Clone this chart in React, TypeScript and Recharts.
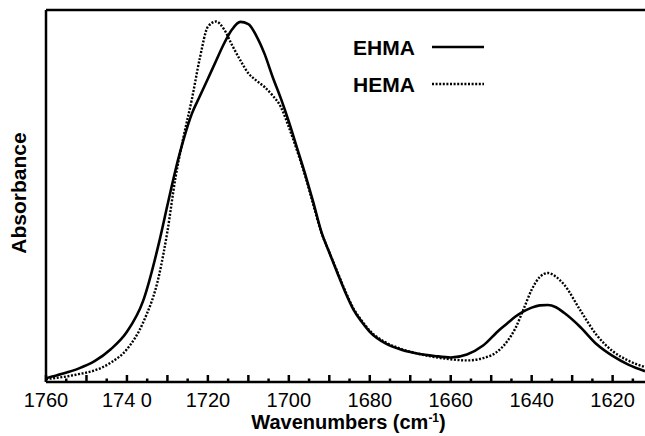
import React from 'react';
import { LineChart, Line, XAxis, YAxis, ReferenceLine, Legend } from 'recharts';

const wavenumbers = [
  1760, 1756, 1752, 1748, 1744, 1740, 1736, 1732, 1730, 1728, 1726, 1724, 1722, 1720,
  1718, 1716, 1714, 1712, 1710, 1708, 1706, 1704, 1702, 1700, 1698, 1696, 1694, 1692,
  1690, 1688, 1686, 1684, 1682, 1680, 1676, 1672, 1668, 1664, 1660, 1656, 1652, 1648,
  1646, 1644, 1642, 1640, 1638, 1636, 1634, 1632, 1628, 1624, 1620, 1616, 1612,
];

const ehma = [
  1.0, 2.2, 3.6, 5.6, 8.8, 13.5, 21.8, 37.8, 47.5, 57, 65.2, 72, 76.8, 81.5,
  86.3, 91, 94.8, 96.8, 96.2, 93, 88.2, 82, 76.3, 70, 63, 56, 48.5, 40.5,
  34.8, 29.3, 24, 19.4, 16.2, 13.5, 10.3, 8.6, 7.6, 7.0, 6.6, 7.4, 9.8, 14,
  15.8, 17.6, 19.0, 20, 20.6, 20.7, 20.1, 18.6, 14.8, 10.2, 7.0, 4.6, 2.9,
];

const hema = [
  0.8, 1.3, 2.1, 3.1, 5.2, 8.8, 16, 29, 40.5, 55, 66, 75.8, 87, 95.5,
  96.9, 94.8, 90.5, 86.5, 83, 81, 79.3, 77, 74, 68.5, 62.3, 55.5, 47.8, 40.3,
  34.9, 29.6, 24.3, 19.7, 16.5, 13.8, 10.6, 8.8, 7.6, 6.7, 6.1, 5.8, 6.4, 8.6,
  11, 14.5, 19.6, 24.8, 28.2, 29.3, 28.3, 26.2, 19.3, 12.7, 8.3, 5.7, 4.0,
];

const tickValues = [
  1760, 1755, 1750, 1745, 1740, 1735, 1730, 1725, 1720, 1715, 1710, 1705, 1700, 1695,
  1690, 1685, 1680, 1675, 1670, 1665, 1660, 1655, 1650, 1645, 1640, 1635, 1630, 1625,
  1620, 1615,
];

const tickLabels: Record<number, string> = {
  1760: '1760',
  1740: '174 0',
  1720: '1720',
  1700: '1700',
  1680: '1680',
  1660: '1660',
  1640: '1640',
  1620: '1620',
};

const seriesDash: Record<string, string | undefined> = {
  EHMA: undefined,
  HEMA: '2 1.6',
};

const data = wavenumbers.map((wn, i) => ({ wn, EHMA: ehma[i], HEMA: hema[i] }));

const font = '"Liberation Sans", Arial, sans-serif';

const AxisTick = ({ x, y, payload }: any) => {
  const v = payload.value;
  const major = v % 10 === 0;
  const label = tickLabels[v];
  return (
    <g>
      <line x1={x} x2={x} y1={y} y2={y - (major ? 7 : 3.5)} stroke="#000" strokeWidth={2.5} />
      {label && (
        <text x={x} y={y + 25} textAnchor="middle" fontFamily={font} fontSize={20} fill="#000">
          {label}
        </text>
      )}
    </g>
  );
};

const XTitle = ({ viewBox }: any) => (
  <text
    x={viewBox.x + viewBox.width / 2 + 3}
    y={viewBox.y + 47}
    textAnchor="middle"
    fontFamily={font}
    fontSize={20}
    fontWeight="bold"
    fill="#000"
  >
    Wavenumbers (cm
    <tspan fontSize={12} dy={-7}>-1</tspan>
    <tspan dy={7}>)</tspan>
  </text>
);

const YTitle = () => (
  <text
    x={26}
    y={193}
    transform="rotate(-90 26 193)"
    textAnchor="middle"
    fontFamily={font}
    fontSize={21}
    fontWeight="bold"
    fill="#000"
  >
    Absorbance
  </text>
);

const renderLegend = (props: any) => {
  const { payload = [] } = props;
  return (
    <svg width={645} height={100}>
      {payload.map((entry: any, i: number) => {
        const cy = 47 + i * 37;
        return (
          <g key={entry.value}>
            <text x={353} y={cy + 7.5} fontFamily={font} fontSize={21} fontWeight="bold" fill="#000">
              {entry.value}
            </text>
            <line
              x1={432}
              x2={484}
              y1={cy}
              y2={cy}
              stroke="#000"
              strokeWidth={2.5}
              strokeDasharray={seriesDash[entry.value]}
            />
          </g>
        );
      })}
    </svg>
  );
};

export default function App() {
  return (
    <div style={{ position: 'absolute', left: 0, top: 0, background: '#fff' }}>
      <LineChart width={645} height={436} data={data} margin={{ top: 10, right: 0, bottom: 0, left: 0 }}>
        <XAxis
          dataKey="wn"
          type="number"
          domain={[1612, 1760]}
          reversed
          allowDataOverflow
          ticks={tickValues}
          interval={0}
          tickSize={0}
          tickMargin={0}
          tickLine={false}
          tick={<AxisTick />}
          axisLine={{ stroke: '#000', strokeWidth: 2.5 }}
          height={54}
          label={<XTitle />}
        />
        <YAxis
          type="number"
          domain={[0, 100]}
          allowDataOverflow
          width={46}
          tick={false}
          tickLine={false}
          axisLine={{ stroke: '#000', strokeWidth: 2.5 }}
          label={<YTitle />}
        />
        <ReferenceLine y={100} stroke="#000" strokeWidth={2.5} />
        <Legend
          layout="vertical"
          verticalAlign="middle"
          align="center"
          wrapperStyle={{ left: 0, top: 0, width: 645, height: 100 }}
          content={renderLegend}
        />
        <Line
          type="monotone"
          dataKey="EHMA"
          name="EHMA"
          stroke="#000"
          strokeWidth={2.6}
          dot={false}
          isAnimationActive={false}
        />
        <Line
          type="monotone"
          dataKey="HEMA"
          name="HEMA"
          stroke="#000"
          strokeWidth={2.4}
          strokeDasharray={seriesDash.HEMA}
          dot={false}
          isAnimationActive={false}
        />
      </LineChart>
    </div>
  );
}
